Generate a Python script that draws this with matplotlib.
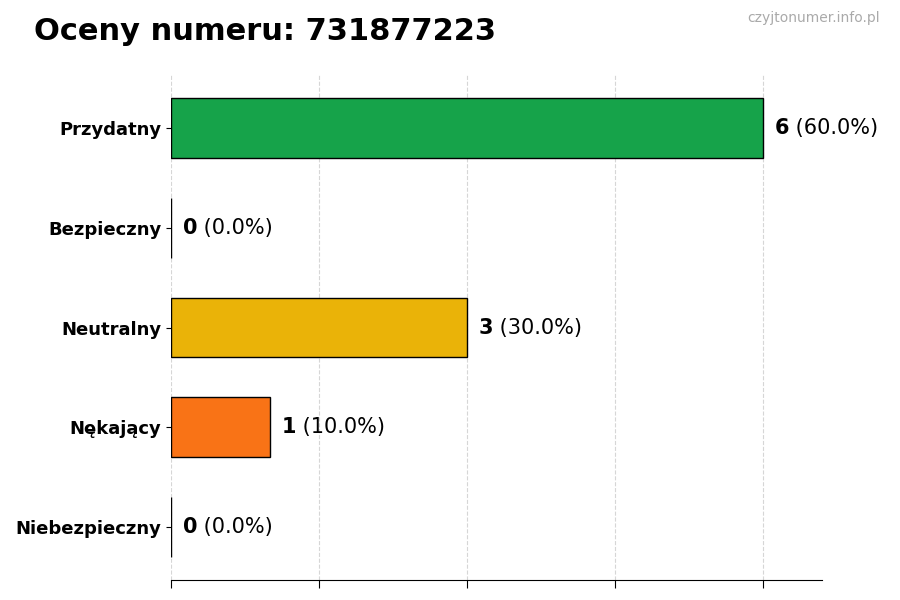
import matplotlib
matplotlib.use('Agg')
import matplotlib.pyplot as plt

categories = ['Przydatny', 'Bezpieczny', 'Neutralny', 'Nękający', 'Niebezpieczny']
counts = [6, 0, 3, 1, 0]
colors = ['#16a34a', '#2563eb', '#eab308', '#f97316', '#dc2626']
phone = '731877223'

total = sum(counts)
ypos = list(range(len(categories)))[::-1]

fig = plt.figure(figsize=(9, 6), dpi=100)
ax = fig.add_axes([0.19, 0.0333, 0.7233, 0.8417])

ax.barh(ypos, counts, height=0.6, color=colors, edgecolor='black', linewidth=1, zorder=3)

ax.set_yticks(ypos)
ax.set_yticklabels(categories, fontsize=13, fontweight='bold')
ax.set_xlim(0, max(counts) * 1.1)
ax.set_xticks([0, 1.5, 3, 4.5, 6])
ax.set_xticklabels([])
ax.tick_params(axis='x', length=6)
ax.grid(axis='x', linestyle='--', color='#cccccc', alpha=0.8, zorder=0)

for s in ['top', 'right', 'left']:
    ax.spines[s].set_visible(False)

# value labels: bold count + normal percentage
for y, c in zip(ypos, counts):
    pct = 100.0 * c / total
    t = ax.text(c + 0.12, y, str(c), fontsize=15, fontweight='bold', va='center', ha='left')
    ax.annotate(' (%.1f%%)' % pct, xy=(1, 0), xycoords=t, va='bottom', ha='left', fontsize=15)

fig.text(0.038, 0.948, 'Oceny numeru: ' + phone, fontsize=22, fontweight='bold', va='center', ha='left')
fig.text(0.978, 0.97, 'czyjtonumer.info.pl', fontsize=10, color='#aaaaaa', va='center', ha='right')

fig.savefig('out.png', dpi=100)
